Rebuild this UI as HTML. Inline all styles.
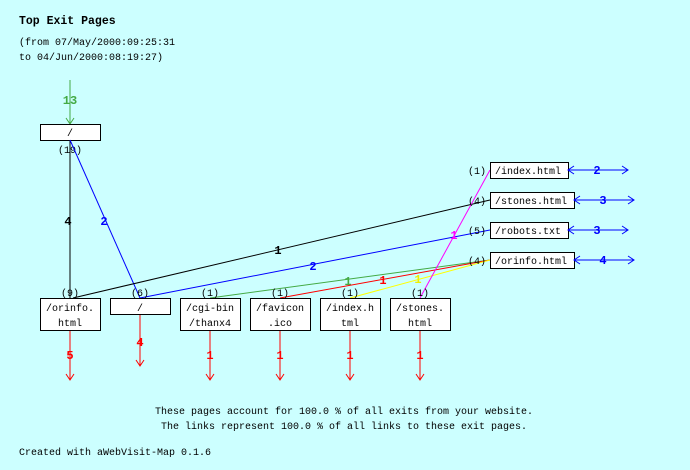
<!DOCTYPE html>
<html><head><meta charset="utf-8"><style>
html,body{margin:0;padding:0;background:#ccffff;}
svg{display:block;}
text{font-family:"Liberation Mono",monospace;font-size:10px;}
.b{font-weight:bold;font-size:12px;}
.t{font-weight:bold;font-size:11.5px;}
</style></head><body>
<svg width="690" height="470" viewBox="0 0 690 470" xmlns="http://www.w3.org/2000/svg">
<rect width="690" height="470" fill="#ccffff"/>
<text x="19" y="24" class="t">Top Exit Pages</text>
<text x="19" y="45">(from 07/May/2000:09:25:31</text>
<text x="19" y="60">to 04/Jun/2000:08:19:27)</text>

<line x1="70" y1="80" x2="70" y2="124" stroke="#44aa44"/>
<polyline points="66,118 70,124 74,118" fill="none" stroke="#44aa44"/>
<text x="70" y="104" text-anchor="middle" class="b" fill="#44aa44">13</text>
<rect x="40.5" y="124.5" width="60" height="16" fill="#fff" stroke="#000"/>
<text x="70" y="136" text-anchor="middle">/</text>
<text x="70" y="153" text-anchor="middle">(19)</text>

<line x1="70" y1="140" x2="70" y2="298" stroke="#000"/>
<text x="68" y="225" text-anchor="middle" class="b">4</text>
<line x1="70" y1="140" x2="140" y2="298" stroke="#0000ff"/>
<text x="104" y="225" text-anchor="middle" class="b" fill="#0000ff">2</text>
<line x1="73" y1="298" x2="490" y2="200" stroke="#000"/>
<text x="278" y="254" text-anchor="middle" class="b">1</text>
<line x1="140" y1="298" x2="490" y2="230" stroke="#0000ff"/>
<text x="313" y="270" text-anchor="middle" class="b" fill="#0000ff">2</text>
<line x1="210" y1="298" x2="490" y2="260" stroke="#44aa44"/>
<text x="348" y="285" text-anchor="middle" class="b" fill="#44aa44">1</text>
<line x1="280" y1="298" x2="490" y2="260" stroke="#ff0000"/>
<text x="383" y="284" text-anchor="middle" class="b" fill="#ff0000">1</text>
<line x1="350" y1="298" x2="490" y2="260" stroke="#ffff00"/>
<text x="418" y="283" text-anchor="middle" class="b" fill="#eeee00">1</text>
<line x1="420" y1="298" x2="490" y2="170" stroke="#ff00ff"/>
<text x="454" y="239" text-anchor="middle" class="b" fill="#ff00ff">1</text>

<g text-anchor="middle">
<text x="70" y="296">(9)</text><text x="140" y="296">(6)</text><text x="210" y="296">(1)</text>
<text x="280" y="296">(1)</text><text x="350" y="296">(1)</text><text x="420" y="296">(1)</text>
</g>
<g fill="#fff" stroke="#000">
<rect x="40.5" y="298.5" width="60" height="32"/>
<rect x="110.5" y="298.5" width="60" height="16"/>
<rect x="180.5" y="298.5" width="60" height="32"/>
<rect x="250.5" y="298.5" width="60" height="32"/>
<rect x="320.5" y="298.5" width="60" height="32"/>
<rect x="390.5" y="298.5" width="60" height="32"/>
</g>
<g text-anchor="middle">
<text x="70" y="311">/orinfo.</text><text x="70" y="326">html</text>
<text x="140" y="311">/</text>
<text x="210" y="311">/cgi-bin</text><text x="210" y="326">/thanx4</text>
<text x="280" y="311">/favicon</text><text x="280" y="326">.ico</text>
<text x="350" y="311">/index.h</text><text x="350" y="326">tml</text>
<text x="420" y="311">/stones.</text><text x="420" y="326">html</text>
</g>
<g stroke="#ff0000" fill="none">
<line x1="70" y1="331" x2="70" y2="380"/><polyline points="66,374 70,380 74,374"/>
<line x1="140" y1="315" x2="140" y2="366"/><polyline points="136,360 140,366 144,360"/>
<line x1="210" y1="331" x2="210" y2="380"/><polyline points="206,374 210,380 214,374"/>
<line x1="280" y1="331" x2="280" y2="380"/><polyline points="276,374 280,380 284,374"/>
<line x1="350" y1="331" x2="350" y2="380"/><polyline points="346,374 350,380 354,374"/>
<line x1="420" y1="331" x2="420" y2="380"/><polyline points="416,374 420,380 424,374"/>
</g>
<g fill="#ff0000" text-anchor="middle">
<text x="70" y="359" class="b">5</text><text x="140" y="346" class="b">4</text>
<text x="210" y="359" class="b">1</text><text x="280" y="359" class="b">1</text>
<text x="350" y="359" class="b">1</text><text x="420" y="359" class="b">1</text>
</g>

<g text-anchor="end">
<text x="486" y="174">(1)</text><text x="486" y="204">(4)</text>
<text x="486" y="234">(5)</text><text x="486" y="264">(4)</text>
</g>
<g fill="#fff" stroke="#000">
<rect x="490.5" y="162.5" width="78" height="16"/>
<rect x="490.5" y="192.5" width="84" height="16"/>
<rect x="490.5" y="222.5" width="78" height="16"/>
<rect x="490.5" y="252.5" width="84" height="16"/>
</g>
<text x="495" y="174">/index.html</text>
<text x="495" y="204">/stones.html</text>
<text x="495" y="234">/robots.txt</text>
<text x="495" y="264">/orinfo.html</text>
<g stroke="#0000ff" fill="none">
<line x1="568" y1="170" x2="628" y2="170"/><polyline points="574,166 568,170 574,174"/><polyline points="622,166 628,170 622,174"/>
<line x1="574" y1="200" x2="634" y2="200"/><polyline points="580,196 574,200 580,204"/><polyline points="628,196 634,200 628,204"/>
<line x1="568" y1="230" x2="628" y2="230"/><polyline points="574,226 568,230 574,234"/><polyline points="622,226 628,230 622,234"/>
<line x1="574" y1="260" x2="634" y2="260"/><polyline points="580,256 574,260 580,264"/><polyline points="628,256 634,260 628,264"/>
</g>
<g fill="#0000ff" text-anchor="middle">
<text x="597" y="174" class="b">2</text><text x="603" y="204" class="b">3</text>
<text x="597" y="234" class="b">3</text><text x="603" y="264" class="b">4</text>
</g>

<text x="155" y="414">These pages account for 100.0 % of all exits from your website.</text>
<text x="161" y="429">The links represent 100.0 % of all links to these exit pages.</text>
<text x="19" y="455">Created with aWebVisit-Map 0.1.6</text>
</svg>
</body></html>
